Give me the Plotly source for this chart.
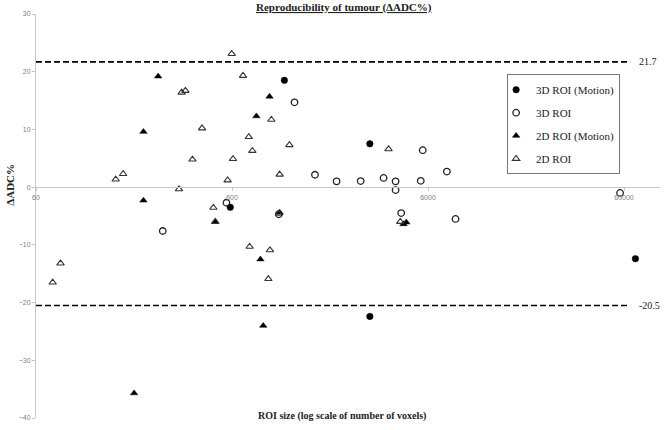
import math
import plotly.graph_objects as go

# ---- data (ROI size in voxels, ΔADC %) ----
motion3d_x = [588, 1110, 3030, 3030, 68600]
motion3d_y = [-3.5, 18.5, 7.5, -22.4, -12.4]

roi3d_x = [266, 562, 1250, 1590, 2050, 2720, 3560, 4100, 4100, 5510, 5640, 7490, 4380, 8290, 1040, 57300]
roi3d_y = [-7.6, -2.7, 14.7, 2.15, 1.0, 1.05, 1.6, 1.0, -0.5, 1.1, 6.4, 2.7, -4.5, -5.5, -4.7, -1.0]

motion2d_x = [252, 212, 212, 190, 493, 799, 932, 838, 866, 1050, 4500, 4650]
motion2d_y = [19.2, 9.6, -2.3, -35.7, -6.0, 12.3, 15.7, -12.5, -24.0, -4.4, -6.4, -6.1]

roi2d_x = [73, 80, 153, 167, 322, 377, 570, 607, 482, 493, 738, 598, 683, 332, 347, 422,
           953, 731, 762, 1178, 1050, 937, 920, 1040, 3773, 4330]
roi2d_y = [-16.5, -13.2, 1.35, 2.3, -0.35, 4.8, 1.2, 4.9, -3.55, -6.0, -10.3, 23.1, 19.3, 16.4, 16.7, 10.2,
           11.7, 8.7, 6.3, 7.3, 2.2, -10.9, -15.9, -4.6, 6.6, -6.0]

upper_loa = 21.7
lower_loa = -20.5

x_ticks = [60, 600, 6000, 60000]
x_tick_labels = ["60", "600", "6000", "60000"]
y_ticks = [-40, -30, -20, -10, 0, 10, 20, 30]

SERIF = "Liberation Serif, Times New Roman, serif"
SANS = "Liberation Sans, Arial, sans-serif"

fig = go.Figure()

def add(xs, ys, name, symbol, color, lw):
    fig.add_trace(go.Scatter(
        x=xs, y=ys, mode="markers", name=name, legendgroup=name,
        marker=dict(symbol=symbol, size=6.5, color=color, line=dict(color=color, width=lw)),
    ))

add(motion3d_x, motion3d_y, "3D ROI (Motion)", "circle", "#000000", 0.5)
add(roi3d_x, roi3d_y, "3D ROI", "circle-open", "#222222", 1.3)
add(motion2d_x, motion2d_y, "2D ROI (Motion)", "triangle-up", "#000000", 0.5)
add(roi2d_x, roi2d_y, "2D ROI", "triangle-up-open", "#333333", 1.1)

for v in (upper_loa, lower_loa):
    fig.add_shape(type="line", xref="x domain", yref="y", x0=0, x1=0.952, y0=v, y1=v,
                  line=dict(color="#000000", width=1.6, dash="6px,3px"))

for v in (upper_loa, lower_loa):
    fig.add_annotation(xref="x domain", yref="y", x=0.963, y=v, text=f"{v}",
                       showarrow=False, xanchor="left", yanchor="middle",
                       font=dict(family=SERIF, size=10, color="#222"))

fig.add_annotation(xref="paper", yref="paper", x=0.494, y=1.015,
                   text="<b><u>Reproducibility of tumour (ΔADC%)</u></b>",
                   showarrow=False, xanchor="center", yanchor="middle",
                   font=dict(family=SERIF, size=11, color="#222"))
fig.add_annotation(xref="paper", yref="paper", x=-0.042, y=0.577,
                   text="<b>ΔADC%</b>", textangle=-90,
                   showarrow=False, xanchor="center", yanchor="middle",
                   font=dict(family=SERIF, size=11, color="#222"))
fig.add_annotation(xref="paper", yref="paper", x=0.49, y=0.005,
                   text="<b>ROI size (log scale of number of voxels)</b>",
                   showarrow=False, xanchor="center", yanchor="middle",
                   font=dict(family=SERIF, size=10, color="#222"))

ymin, ymax = -40, 30
fig.update_layout(
    width=666, height=430,
    margin=dict(l=36, r=6, t=14, b=12, autoexpand=False),
    plot_bgcolor="white", paper_bgcolor="white",
    showlegend=True,
    legend=dict(x=0.755, y=0.851, xanchor="left", yanchor="top",
                bordercolor="#777", borderwidth=1, bgcolor="white",
                font=dict(family=SERIF, size=11, color="#222"),
                traceorder="grouped", tracegroupgap=4, itemwidth=30,
                indentation=-12),
    xaxis=dict(type="log", range=[math.log10(60), math.log10(60) + 624 / 196],
               tickvals=x_ticks, ticktext=x_tick_labels,
               tickfont=dict(family=SANS, size=7, color="#808080"),
               anchor="free", position=(0 - ymin) / (ymax - ymin),
               showline=True, linecolor="#c8c8c8", linewidth=1,
               ticks="outside", ticklen=3, tickcolor="#c8c8c8",
               showgrid=False, zeroline=False, automargin=False),
    yaxis=dict(range=[ymin, ymax], tickvals=y_ticks,
               tickfont=dict(family=SANS, size=7, color="#808080"),
               showline=True, linecolor="#c8c8c8", linewidth=1,
               ticks="outside", ticklen=3, tickcolor="#c8c8c8",
               showgrid=False, zeroline=False, automargin=False),
)

fig.write_html("out.html", config={"displayModeBar": False},
               post_script="document.body.style.margin='0';")
